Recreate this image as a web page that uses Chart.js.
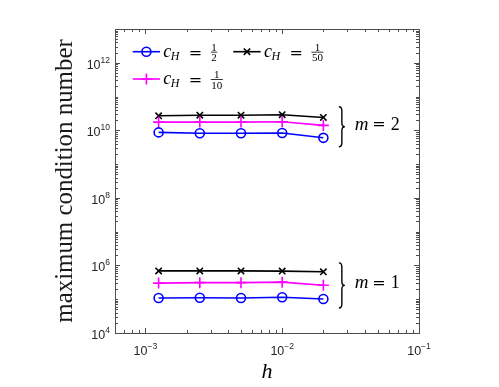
<!DOCTYPE html>
<html>
<head>
<meta charset="utf-8">
<script src="https://cdn.jsdelivr.net/npm/chart.js@4.4.1/dist/chart.umd.min.js"></script>
<style>
  html, body { margin: 0; padding: 0; background: #fff; }
  canvas { display: block; }
</style>
</head>
<body>
<canvas id="condChart" width="499" height="387"></canvas>
<script>
// mesh sizes h
const meshSizes = [1/800, 1/400, 1/200, 1/100, 1/50];

// m = 1
const condHalfM1     = [1.09e5, 1.10e5, 1.09e5, 1.14e5, 1.02e5];
const condTenthM1    = [3.0e5, 3.1e5, 3.1e5, 3.2e5, 2.6e5];
const condFiftiethM1 = [6.9e5, 6.9e5, 6.9e5, 6.8e5, 6.5e5];

// m = 2
const condHalfM2     = [8.7e9, 8.2e9, 8.2e9, 8.3e9, 6.0e9];
const condTenthM2    = [1.75e10, 1.75e10, 1.75e10, 1.8e10, 1.4e10];
const condFiftiethM2 = [2.7e10, 2.8e10, 2.8e10, 2.9e10, 2.4e10];

// c_H values shown in the legend (numerator / denominator)
const cHFractions = [['1', '2'], ['1', '10'], ['1', '50']];
const groupLabels = ['1', '2'];   // m = ...

const xRange = [1/1600, 1e-1];
const yRange = [1e4, 1e13];
const xLabelExps = [-3, -2, -1];
const yLabelExps = [4, 6, 8, 10, 12];

const seriesStyle = [
    { color: '#0000ff', pointStyle: 'circle',   radius: 4.5 },
    { color: '#ff00ff', pointStyle: 'cross',    radius: 5.5 },
    { color: '#000000', pointStyle: 'crossRot', radius: 4.5 }
];

const toPoints = (vals) => meshSizes.map((h, i) => ({ x: h, y: vals[i] }));

const makeSet = (vals, s, group) => ({
    data: toPoints(vals),
    group: group,
    series: s,
    borderColor: seriesStyle[s].color,
    backgroundColor: 'rgba(0,0,0,0)',
    borderWidth: 1.6,
    pointStyle: seriesStyle[s].pointStyle,
    pointRadius: seriesStyle[s].radius,
    pointBorderWidth: 1.6,
    pointBorderColor: seriesStyle[s].color,
    pointBackgroundColor: 'rgba(0,0,0,0)',
    tension: 0,
    fill: false
});

const datasets = [
    makeSet(condHalfM1, 0, 0),
    makeSet(condTenthM1, 1, 0),
    makeSet(condFiftiethM1, 2, 0),
    makeSet(condHalfM2, 0, 1),
    makeSet(condTenthM2, 1, 1),
    makeSet(condFiftiethM2, 2, 1)
];

const AXIS_COLOR = '#4d4d4d';
const SERIF = '"Liberation Serif", "Times New Roman", serif';
const SANS = '"Liberation Sans", Arial, sans-serif';

function drawMarker(ctx, style, x, y) {
    const r = style.radius;
    ctx.strokeStyle = style.color;
    ctx.lineWidth = 1.6;
    ctx.beginPath();
    if (style.pointStyle === 'circle') {
        ctx.arc(x, y, r, 0, Math.PI * 2);
    } else if (style.pointStyle === 'cross') {
        ctx.moveTo(x - r, y); ctx.lineTo(x + r, y);
        ctx.moveTo(x, y - r); ctx.lineTo(x, y + r);
    } else {
        const d = r * Math.SQRT1_2;
        ctx.moveTo(x - d, y - d); ctx.lineTo(x + d, y + d);
        ctx.moveTo(x - d, y + d); ctx.lineTo(x + d, y - d);
    }
    ctx.stroke();
}

function drawPower(ctx, exp, x, y, align) {
    // "10" with a raised exponent
    ctx.font = '12.5px ' + SANS;
    const base = '10';
    const bw = ctx.measureText(base).width;
    ctx.font = '8.5px ' + SANS;
    const es = String(exp).replace('-', '\u2212');
    const ew = ctx.measureText(es).width;
    let left = x;
    if (align === 'right') left = x - bw - ew;
    if (align === 'center') left = x - (bw + ew) / 2;
    ctx.textAlign = 'left';
    ctx.textBaseline = 'middle';
    ctx.font = '12.5px ' + SANS;
    ctx.fillText(base, left, y);
    ctx.font = '8.5px ' + SANS;
    ctx.fillText(es, left + bw, y - 5);
}

function drawFraction(ctx, num, den, left, mid) {
    ctx.font = '11px ' + SERIF;
    const w = Math.max(ctx.measureText(num).width, ctx.measureText(den).width);
    const cx = left + w / 2 + 0.5;
    ctx.textAlign = 'center';
    ctx.textBaseline = 'alphabetic';
    ctx.fillText(num, cx, mid - 1.2);
    ctx.fillText(den, cx, mid + 9.5);
    ctx.lineWidth = 0.8;
    ctx.strokeStyle = '#000';
    ctx.beginPath();
    ctx.moveTo(left, mid + 0.5);
    ctx.lineTo(left + w + 1, mid + 0.5);
    ctx.stroke();
}

function drawBrace(ctx, x, top, bottom) {
    const mid = (top + bottom) / 2;
    ctx.strokeStyle = '#000';
    ctx.lineWidth = 1.4;
    ctx.beginPath();
    ctx.moveTo(x, top);
    ctx.quadraticCurveTo(x + 3, top, x + 3, top + 4);
    ctx.lineTo(x + 3, mid - 4);
    ctx.quadraticCurveTo(x + 3, mid, x + 6, mid);
    ctx.quadraticCurveTo(x + 3, mid, x + 3, mid + 4);
    ctx.lineTo(x + 3, bottom - 4);
    ctx.quadraticCurveTo(x + 3, bottom, x, bottom);
    ctx.stroke();
}

const framePlugin = {
    id: 'frame',
    afterDraw(chart) {
        const { ctx, chartArea: a, scales: { x, y } } = chart;
        ctx.save();

        // box
        ctx.strokeStyle = AXIS_COLOR;
        ctx.lineWidth = 1;
        ctx.strokeRect(Math.round(a.left) + 0.5, Math.round(a.top) + 0.5,
            Math.round(a.right - a.left), Math.round(a.bottom - a.top));

        // inner ticks, both sides
        ctx.beginPath();
        for (let d = Math.floor(Math.log10(xRange[0])); d <= Math.ceil(Math.log10(xRange[1])); d++) {
            for (let k = 1; k <= 9; k++) {
                const v = k * Math.pow(10, d);
                if (v < xRange[0] || v > xRange[1] * 1.0001) continue;
                const px = Math.round(x.getPixelForValue(v)) + 0.5;
                const len = (k === 1 && xLabelExps.includes(d)) ? 5 : 3;
                ctx.moveTo(px, a.bottom); ctx.lineTo(px, a.bottom - len);
                ctx.moveTo(px, a.top); ctx.lineTo(px, a.top + len);
            }
        }
        for (let d = Math.floor(Math.log10(yRange[0])); d <= Math.ceil(Math.log10(yRange[1])); d++) {
            for (let k = 1; k <= 9; k++) {
                const v = k * Math.pow(10, d);
                if (v < yRange[0] || v > yRange[1] * 1.0001) continue;
                const py = Math.round(y.getPixelForValue(v)) + 0.5;
                const len = (k === 1 && yLabelExps.includes(d)) ? 5 : 3;
                ctx.moveTo(a.left, py); ctx.lineTo(a.left + len, py);
                ctx.moveTo(a.right, py); ctx.lineTo(a.right - len, py);
            }
        }
        ctx.stroke();

        // tick labels
        ctx.fillStyle = '#262626';
        xLabelExps.forEach(e => {
            drawPower(ctx, e, x.getPixelForValue(Math.pow(10, e)), a.bottom + 19, 'center');
        });
        yLabelExps.forEach(e => {
            drawPower(ctx, e, a.left - 5, y.getPixelForValue(Math.pow(10, e)) + 2.5, 'right');
        });

        // axis titles
        ctx.fillStyle = '#000';
        ctx.font = 'italic 22px ' + SERIF;
        ctx.textAlign = 'center';
        ctx.textBaseline = 'alphabetic';
        ctx.fillText('h', (a.left + a.right) / 2, 378);

        const yTitle = 'maximum condition number';
        ctx.font = '20px ' + SERIF;
        const fs = 20 * (a.bottom - a.top - 21) / ctx.measureText(yTitle).width;
        ctx.font = fs.toFixed(1) + 'px ' + SERIF;
        ctx.fillStyle = '#1a1a1a';
        ctx.save();
        ctx.translate(71.5, (a.top + a.bottom) / 2);
        ctx.rotate(-Math.PI / 2);
        ctx.fillText(yTitle, 0, 0);
        ctx.restore();

        // legend (two columns, filled column first)
        const colX = [132.7, 233.3], rowY = [51.7, 79];
        cHFractions.forEach((frac, i) => {
            const lx = colX[Math.floor(i / 2)], ly = rowY[i % 2];
            const st = seriesStyle[i];
            ctx.strokeStyle = st.color;
            ctx.lineWidth = 1.6;
            ctx.beginPath();
            ctx.moveTo(lx, ly); ctx.lineTo(lx + 27.3, ly);
            ctx.stroke();
            drawMarker(ctx, st, lx + 13.7, ly);

            const tx = lx + 30.6;
            ctx.fillStyle = '#000';
            ctx.textAlign = 'left';
            ctx.textBaseline = 'alphabetic';
            ctx.font = 'italic 18px ' + SERIF;
            ctx.fillText('c', tx, ly + 5);
            ctx.font = 'italic 12px ' + SERIF;
            ctx.fillText('H', tx + 7.5, ly + 8.3);
            ctx.font = '16px "DejaVu Serif", serif';
            ctx.fillText('=', tx + 25.5, ly + 6);
            drawFraction(ctx, frac[0], frac[1], tx + 47.5, ly);
        });

        // group braces with m labels
        groupLabels.forEach((lab, g) => {
            let lo = Infinity, hi = -Infinity;
            chart.data.datasets.forEach(ds => {
                if (ds.group !== g) return;
                ds.data.forEach(p => {
                    const py = y.getPixelForValue(p.y);
                    lo = Math.min(lo, py); hi = Math.max(hi, py);
                });
            });
            const top = lo - 8, bottom = hi + 9;
            const bx = x.getPixelForValue(meshSizes[meshSizes.length - 1]) + 15.5;
            drawBrace(ctx, bx, top, bottom);
            const base = (top + bottom) / 2 + 3;
            ctx.fillStyle = '#000';
            ctx.textAlign = 'left';
            ctx.textBaseline = 'alphabetic';
            ctx.font = 'italic 19px ' + SERIF;
            ctx.fillText('m', bx + 16, base);
            ctx.font = '16px "DejaVu Serif", serif';
            ctx.fillText('=', bx + 33.5, base - 0.5);
            ctx.font = '18px ' + SERIF;
            ctx.fillText(lab, bx + 52, base);
        });

        ctx.restore();
    }
};

new Chart(document.getElementById('condChart'), {
    type: 'line',
    data: { datasets: datasets },
    options: {
        responsive: false,
        animation: false,
        events: [],
        layout: { padding: { left: 115, right: 80, top: 29, bottom: 54 } },
        plugins: {
            legend: { display: false },
            tooltip: { enabled: false },
            title: { display: false }
        },
        scales: {
            x: {
                type: 'logarithmic',
                display: false,
                min: xRange[0],
                max: xRange[1]
            },
            y: {
                type: 'logarithmic',
                display: false,
                min: yRange[0],
                max: yRange[1]
            }
        }
    },
    plugins: [framePlugin]
});
</script>
</body>
</html>
